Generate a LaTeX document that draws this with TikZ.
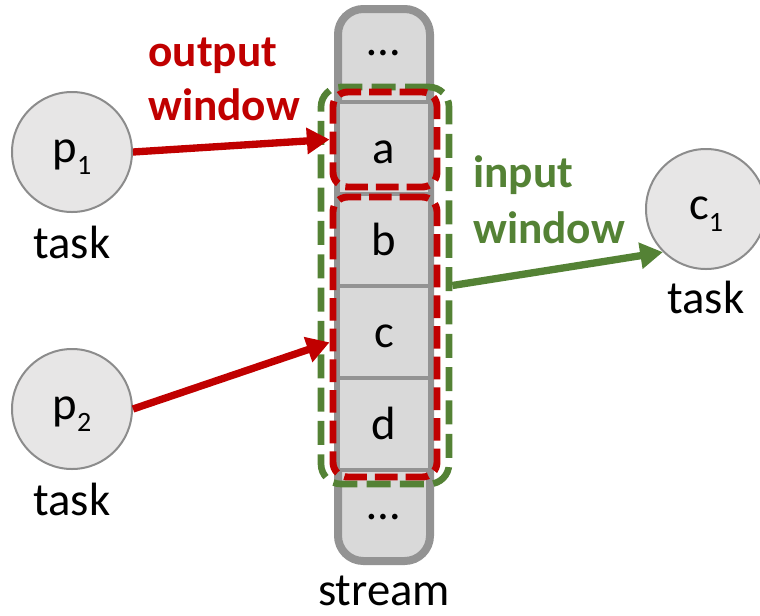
\documentclass[tikz,border=0pt]{standalone}
\usepackage{fontspec}
\setmainfont{Carlito}
\usetikzlibrary{arrows.meta}

\definecolor{winred}{HTML}{C00000}
\definecolor{wingreen}{HTML}{548235}
\definecolor{cellfill}{HTML}{D9D9D9}
\definecolor{celledge}{HTML}{939393}
\definecolor{taskfill}{HTML}{E7E6E6}
\definecolor{taskedge}{HTML}{8C8C8C}

\newcommand{\idx}[1]{\raisebox{-9pt}{\fontsize{21}{21}\selectfont #1}}

\tikzset{
  txt/.style={font=\fontsize{35}{42}\selectfont},
  lbl/.style={txt, inner sep=0pt},
  streambox/.style={draw=celledge, fill=cellfill, line width=6pt,
    rounded corners=19pt, minimum width=69pt, minimum height=414pt, inner sep=0pt},
  cell/.style={txt, draw=celledge, fill=cellfill, line width=2.4pt,
    minimum width=69pt, minimum height=69pt, inner sep=0pt,
    text height=24pt, text depth=1.5pt},
  task/.style={txt, circle, draw=taskedge, fill=taskfill, line width=1.5pt,
    minimum size=90pt, inner sep=0pt, text height=18pt, text depth=3pt},
  outwin/.style={draw=winred, line width=5.2pt, rounded corners=11pt,
    dash pattern=on 17pt off 6pt, inner sep=0pt},
  inwin/.style={draw=wingreen, line width=5pt, rounded corners=15pt,
    dash pattern=on 18pt off 7pt, inner sep=0pt},
  link/.style={line width=5.5pt, -{Triangle[length=17pt, width=19pt]}},
}

\begin{document}
\begin{tikzpicture}[x=0.75pt, y=-0.75pt]
\useasboundingbox (0,0) rectangle (760,615);

% the stream and its records
\node[streambox] (stream) at (384,285) {};
\node[cell] (a) at (384,148) {a};
\node[cell] (b) at (384,240) {b};
\node[cell] (c) at (384,332) {c};
\node[cell] (d) at (384,424) {d};
\node[lbl, anchor=base] (toprest) at (384,55) {…};
\node[lbl, anchor=base] (botrest) at (384,519) {…};
\node[lbl, anchor=base] (streamlbl) at (384,605) {stream};

% windows over the stream
\node[inwin, minimum width=96pt, minimum height=297.75pt] (inw) at (385,285.5) {};
\node[outwin, minimum width=78pt, minimum height=71.25pt] (outa) at (385,139.5) {};
\node[outwin, minimum width=78pt, minimum height=210pt] (outb) at (385,337) {};

% tasks
\node[task] (p1) at (72,152) {p\idx{1}};
\node[task] (p2) at (72,409) {p\idx{2}};
\node[task] (c1) at (706,209) {c\idx{1}};
\node[lbl, anchor=base] (p1lbl) at (72,258) {task};
\node[lbl, anchor=base] (p2lbl) at (72,515) {task};
\node[lbl, anchor=base] (c1lbl) at (706,313) {task};

% window captions (base anchor sits on the last line)
\node[lbl, anchor=base west, align=left, text=winred, font=\fontsize{34}{40}\selectfont\bfseries]
  (outlbl) at (148,120) {output\\window};
\node[lbl, anchor=base west, align=left, text=wingreen, font=\fontsize{34}{42}\selectfont\bfseries]
  (inlbl) at (473,243) {input\\window};

% writes and reads
\draw[link, winred] (p1.east) -- (outa.west);
\draw[link, winred] (p2.east) -- ([yshift=-4pt]outb.west);
\draw[link, wingreen] (inw.east) -- (c1.225);
\end{tikzpicture}
\end{document}
